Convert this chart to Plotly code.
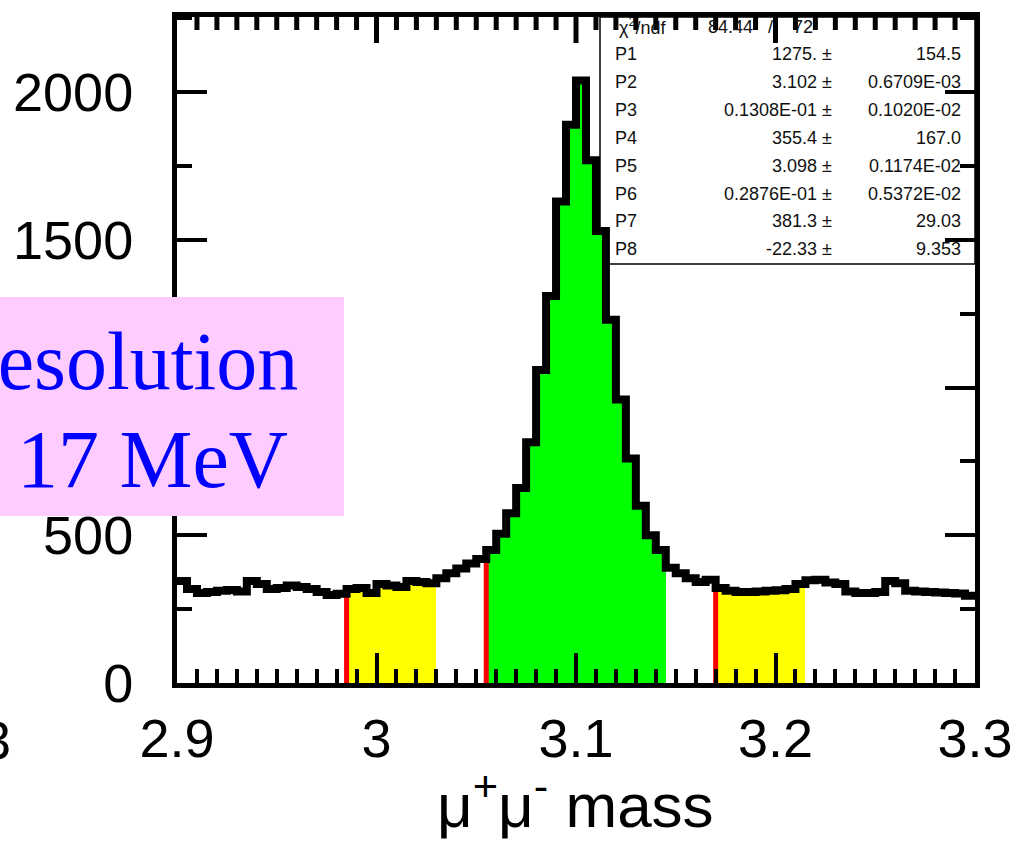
import numpy as np
import plotly.graph_objects as go

# ---------------- data ----------------
mass_low = 2.9
mass_high = 3.3
n_bins = 80
counts = [345, 318, 305, 308, 312, 315, 310, 345, 335, 318,
          322, 330, 325, 318, 308, 298, 302, 318, 322, 305,
          335, 330, 325, 345, 342, 338, 355, 372, 388, 405,
          420, 450, 505, 575, 660, 815, 1060, 1310, 1630, 1890,
          2040, 1770, 1530, 1230, 960, 760, 600, 500, 450, 390,
          372, 355, 342, 350, 322, 312, 308, 308, 310, 312,
          314, 318, 335, 348, 350, 340, 335, 310, 305, 305,
          308, 345, 338, 312, 310, 308, 306, 305, 303, 295]
signal_window = (3.055, 3.145)
sidebands = [(2.985, 3.03), (3.17, 3.215)]

x_ticks = [2.9, 3.0, 3.1, 3.2, 3.3]
x_tick_text = ["2.9", "3", "3.1", "3.2", "3.3"]
x_minor_step = 0.01
y_ticks = [0, 500, 1000, 1500, 2000]
y_tick_text = ["0", "500", "1000", "1500", "2000"]
y_minor_step = 250

chi2_value = "84.44"
ndf_value = "72"
param_names = ["P1", "P2", "P3", "P4", "P5", "P6", "P7", "P8"]
param_values = ["1275.", "3.102", "0.1308E-01", "355.4", "3.098",
                "0.2876E-01", "381.3", "-22.33"]
param_errors = ["154.5", "0.6709E-03", "0.1020E-02", "167.0", "0.1174E-02",
                "0.5372E-02", "29.03", "9.353"]

label_lines = ["Resolution", "17 MeV"]
x_title = "μ<sup>+</sup>μ<sup>-</sup> mass"

# ---------------- derived ----------------
counts = np.array(counts, dtype=float)
bin_w = (mass_high - mass_low) / n_bins
edges = mass_low + bin_w * np.arange(n_bins + 1)
centers = edges[:-1] + bin_w / 2
y_max = 2255

# layout geometry (pixels)
W, H = 1029, 862
L, R, T, B = 177, 54, 17, 179
PW, PH = W - L - R, H - T - B


def X(px):
    return (px - L) / PW


def Y(py):
    return (H - B - py) / PH


fig = go.Figure()


def add_band(lo, hi, color):
    m = (centers > lo) & (centers < hi)
    fig.add_trace(go.Bar(x=centers[m], y=counts[m], width=bin_w,
                         marker=dict(color=color, line=dict(width=0)),
                         showlegend=False, hoverinfo="skip"))


for lo, hi in sidebands:
    add_band(lo, hi, "#FFFF00")
add_band(signal_window[0], signal_window[1], "#00FF00")

# red lines at lower window edges
for lo in [sidebands[0][0], signal_window[0], sidebands[1][0]]:
    i = int(round((lo - mass_low) / bin_w))
    fig.add_trace(go.Scatter(x=[lo, lo], y=[0, counts[i]], mode="lines",
                             line=dict(color="#FF0000", width=5),
                             showlegend=False, hoverinfo="skip"))

# histogram outline
fig.add_trace(go.Scatter(x=edges, y=np.append(counts, counts[-1]),
                         mode="lines", line=dict(color="black", width=8, shape="hv"),
                         showlegend=False, hoverinfo="skip"))

# ticks hanging from the top frame (mirrored x ticks), built from the tick spacing
px_to_y = y_max / PH
n_minor = int(round((mass_high - mass_low) / x_minor_step))
tx, ty = [], []
for j in range(1, n_minor):
    t = round(mass_low + j * x_minor_step, 4)
    is_major = any(abs(t - m) < 1e-9 for m in x_ticks)
    ln = (26 if is_major else 13) * px_to_y
    tx += [t, t, None]
    ty += [y_max, y_max - ln, None]
fig.add_trace(go.Scatter(x=tx, y=ty, mode="lines", line=dict(color="black", width=5),
                         showlegend=False, hoverinfo="skip", connectgaps=False))

tick_font = dict(family="Liberation Sans, Arial", size=54, color="black")
base = dict(showgrid=False, zeroline=False, automargin=False,
            ticks="inside", tickcolor="black", tickwidth=4)

fig.update_layout(
    xaxis=dict(range=[mass_low, mass_high], tickvals=x_ticks, ticktext=x_tick_text,
               ticklen=30, ticklabelstandoff=4, tickfont=tick_font,
               showline=True, linecolor="black", linewidth=5, mirror=True,
               minor=dict(ticks="inside", dtick=x_minor_step, ticklen=14, tickwidth=4,
                          tickcolor="black", showgrid=False),
               **base),
    yaxis=dict(range=[0, y_max], tickvals=y_ticks, ticktext=y_tick_text,
               ticklen=30, ticklabelstandoff=28, tickfont=tick_font,
               showline=True, linecolor="black", linewidth=5, mirror="allticks",
               minor=dict(ticks="inside", dtick=y_minor_step, ticklen=15, tickwidth=4,
                          tickcolor="black", showgrid=False),
               **base),
)

shapes = [
    # stats box
    dict(type="rect", xref="paper", yref="paper", x0=X(600), x1=1.0, y0=Y(264), y1=1.0,
         fillcolor="white", line=dict(color="black", width=1.5), layer="below"),
    # pink label box
    dict(type="rect", xref="paper", yref="paper", x0=X(-30), x1=X(344),
         y0=Y(516), y1=Y(297), fillcolor="#FFCCFF", line=dict(width=0), layer="above"),
]

stat_font = dict(family="Liberation Sans, Arial", size=18, color="#111111")
ann = []
row0 = 54.5
dy = 27.8
ann.append(dict(text="χ<sup>2</sup>/ndf", x=X(617), y=Y(27), xanchor="left", yanchor="middle"))
ann.append(dict(text=chi2_value, x=X(730), y=Y(27), xanchor="center", yanchor="middle"))
ann.append(dict(text="/", x=X(770), y=Y(27), xanchor="center", yanchor="middle"))
ann.append(dict(text=ndf_value, x=X(815), y=Y(27), xanchor="right", yanchor="middle"))
for k, (nm, v, e) in enumerate(zip(param_names, param_values, param_errors)):
    yy = Y(row0 + dy * k)
    ann.append(dict(text=nm, x=X(613), y=yy, xanchor="left", yanchor="middle"))
    ann.append(dict(text=v + " ±", x=X(834), y=yy, xanchor="right", yanchor="middle"))
    ann.append(dict(text=e, x=X(963), y=yy, xanchor="right", yanchor="middle"))
for a in ann:
    a.update(xref="paper", yref="paper", showarrow=False, font=stat_font)

serif = dict(family="Liberation Serif, Times New Roman", size=82, color="#0000FF")
ann.append(dict(text=label_lines[0], x=X(300), y=Y(361), xanchor="right", yanchor="middle",
                xref="paper", yref="paper", showarrow=False, font=serif))
ann.append(dict(text=label_lines[1], x=X(152), y=Y(460), xanchor="center", yanchor="middle",
                xref="paper", yref="paper", showarrow=False, font=serif))

# axis title
ann.append(dict(text=x_title, x=X(575), y=Y(801), xanchor="center", yanchor="middle",
                xref="paper", yref="paper", showarrow=False,
                font=dict(family="Liberation Sans, Arial", size=62, color="black")))
# clipped neighbouring tick label at the far left edge
ann.append(dict(text="3.3", x=X(13), y=Y(740), xanchor="right", yanchor="middle",
                xref="paper", yref="paper", showarrow=False,
                font=dict(family="Liberation Sans, Arial", size=54, color="black")))

fig.update_layout(width=W, height=H, margin=dict(l=L, r=R, t=T, b=B, pad=0),
                  paper_bgcolor="white", plot_bgcolor="white",
                  barmode="overlay", bargap=0, showlegend=False,
                  shapes=shapes, annotations=ann,
                  font=dict(family="Liberation Sans, Arial", color="black"))

fig.write_html("out.html")
